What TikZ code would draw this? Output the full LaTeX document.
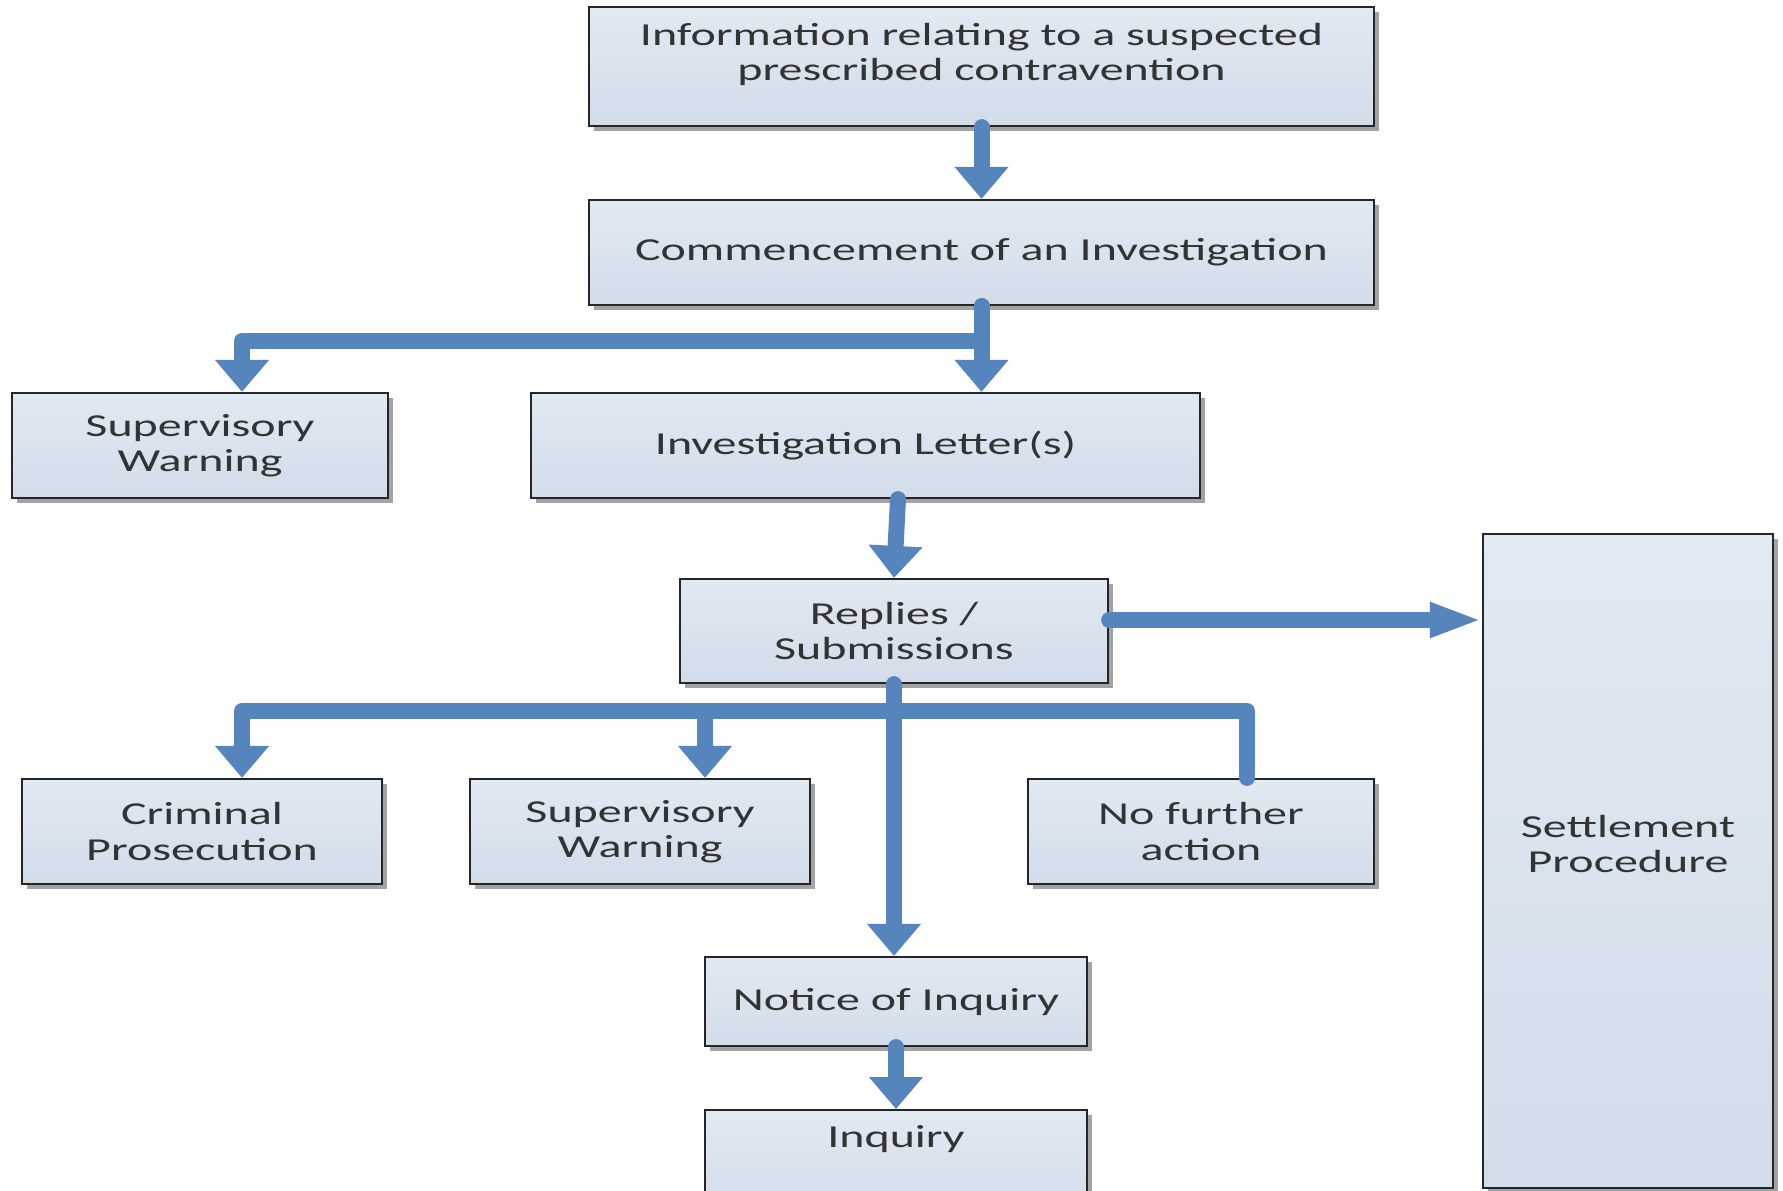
\documentclass[tikz,border=0pt]{standalone}
\usepackage{fontspec}
\setmainfont{Carlito}[FakeStretch=1.5]
\usepackage{tikz}
\usetikzlibrary{positioning, shadows, arrows.meta}

\definecolor{boxtop}{RGB}{225,233,242}
\definecolor{boxbot}{RGB}{210,221,234}
\definecolor{flowblue}{RGB}{86,132,189}

\begin{document}
\begin{tikzpicture}[
    x=0.5pt, y=-0.5pt,
    box/.style={rectangle, draw=black!85, line width=1.1pt, top color=boxtop, bottom color=boxbot,
        drop shadow={shadow xshift=2.5pt, shadow yshift=-2.5pt, fill=black!45, opacity=0.8},
        align=center, inner sep=0pt, font=\fontsize{16}{17.6}\selectfont, text=black!80},
    flow/.style={draw=flowblue, line width=8pt, line join=round, line cap=round,
        -{Triangle[width=26pt, length=16pt]}},
    flowright/.style={flow, -{Triangle[width=16pt, length=26pt]}},
]

\path[use as bounding box, fill=white] (0,0) rectangle (1783,1190);

% Draw the boxes
\node[box, minimum width=392.5pt, minimum height=59.5pt, text depth=15pt] (info) at (981.5,66.5) {Information relating to a suspected\\prescribed contravention};
\node[box, minimum width=392.5pt, minimum height=52.5pt] (comm) at (981.5,252.5) {Commencement of an Investigation};
\node[box, minimum width=188pt, minimum height=52.5pt] (warn1) at (200,445.5) {Supervisory\\Warning};
\node[box, minimum width=334.5pt, minimum height=52.5pt] (letter) at (865.5,445.5) {Investigation Letter(s)};
\node[box, minimum width=214pt, minimum height=52pt] (replies) at (894,631) {Replies /\\Submissions};
\node[box, minimum width=180pt, minimum height=52.5pt] (crim) at (202,831.5) {Criminal\\Prosecution};
\node[box, minimum width=170pt, minimum height=52.5pt] (warn2) at (640,831.5) {Supervisory\\Warning};
\node[box, minimum width=173pt, minimum height=52.5pt] (nfa) at (1201,831.5) {No further\\action};
\node[box, minimum width=191pt, minimum height=44.5pt] (notice) at (896,1001.5) {Notice of Inquiry};
\node[box, minimum width=191pt, minimum height=52.5pt, text depth=26pt, anchor=north] (inquiry) at (896,1109) {Inquiry};
\node[box, minimum width=145pt, minimum height=327pt, text depth=17pt] (settle) at (1628,861) {Settlement\\Procedure};

% Draw the flow
\coordinate (fork1) at (comm.south |- 0,341);
\coordinate (fork2) at (replies.south |- 0,711);
\coordinate (toset) at ([yshift=5.5pt]replies.east);

\draw[flow] (info.south) -- (comm.north);
\draw[flow] (comm.south) -- (comm.south |- letter.north);
\draw[flow] (comm.south) -- (fork1) -| ([xshift=21pt]warn1.north);
\draw[flow] ([xshift=2pt]letter.south -| replies.north) -- (replies.north);
\draw[flowright] (toset) -- (toset -| settle.west);
\draw[flow] (replies.south) -- (replies.south |- notice.north);
\draw[flow] (fork2) -| ([xshift=20pt]crim.north);
\draw[flow] (fork2) -| ([xshift=32.5pt]warn2.north);
\draw[flow, -] (fork2) -| ([xshift=23pt]nfa.north);
\draw[flow] (notice.south) -- (inquiry.north);

\end{tikzpicture}
\end{document}
